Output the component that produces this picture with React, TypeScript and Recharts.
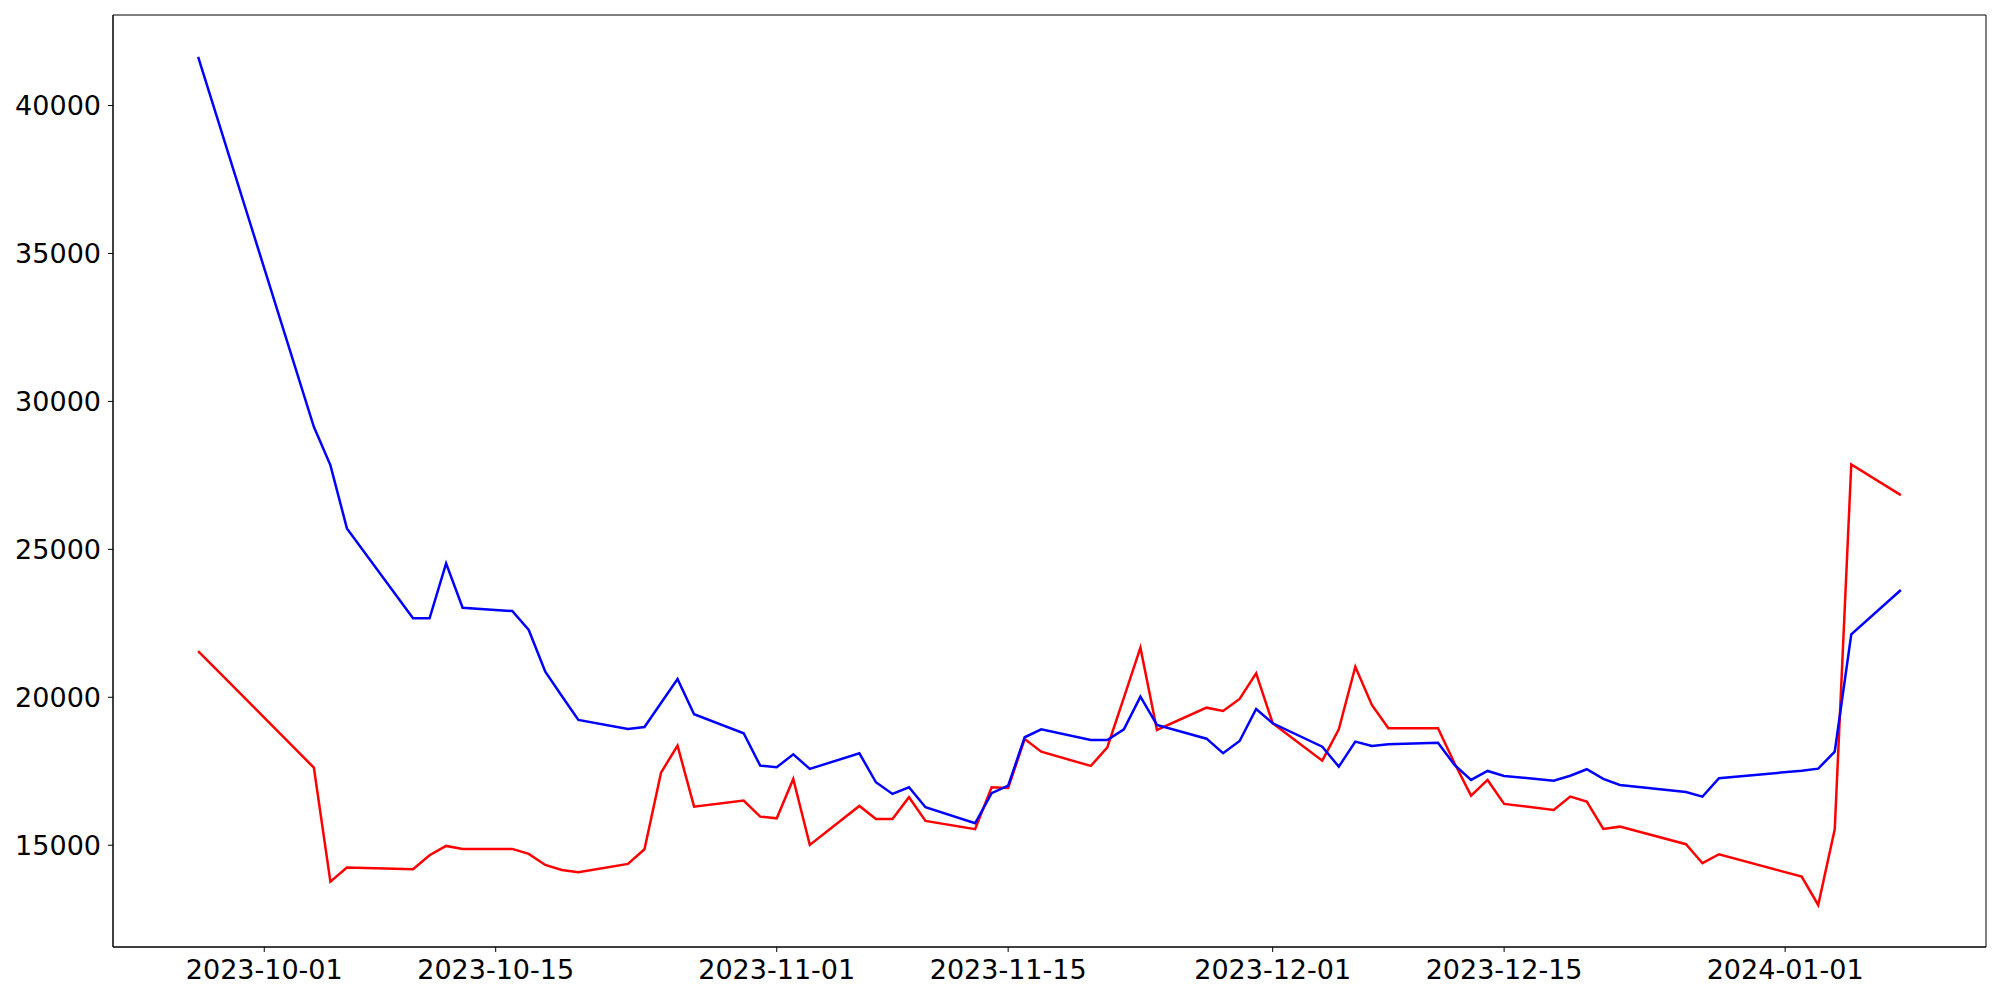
import { Line, LineChart, ReferenceArea, XAxis, YAxis } from 'recharts';

// trading days (KRX calendar, holidays skipped)
const dates = [
    '2023-09-27', '2023-10-04', '2023-10-05', '2023-10-06', '2023-10-10', '2023-10-11', '2023-10-12',
    '2023-10-13', '2023-10-16', '2023-10-17', '2023-10-18', '2023-10-19', '2023-10-20', '2023-10-23',
    '2023-10-24', '2023-10-25', '2023-10-26', '2023-10-27', '2023-10-30', '2023-10-31', '2023-11-01',
    '2023-11-02', '2023-11-03', '2023-11-06', '2023-11-07', '2023-11-08', '2023-11-09', '2023-11-10',
    '2023-11-13', '2023-11-14', '2023-11-15', '2023-11-16', '2023-11-17', '2023-11-20', '2023-11-21',
    '2023-11-22', '2023-11-23', '2023-11-24', '2023-11-27', '2023-11-28', '2023-11-29', '2023-11-30',
    '2023-12-01', '2023-12-04', '2023-12-05', '2023-12-06', '2023-12-07', '2023-12-08', '2023-12-11',
    '2023-12-12', '2023-12-13', '2023-12-14', '2023-12-15', '2023-12-18', '2023-12-19', '2023-12-20',
    '2023-12-21', '2023-12-22', '2023-12-26', '2023-12-27', '2023-12-28', '2024-01-02', '2024-01-03',
    '2024-01-04', '2024-01-05', '2024-01-08',
];

const redValues = [
    21564, 17622, 13770, 14243, 14189, 14662, 14976,
    14875, 14875, 14706, 14334, 14165, 14088, 14368,
    14865, 17453, 18365, 16304, 16507, 15966, 15909,
    17240, 15010, 16328, 15889, 15889, 16622, 15821,
    15541, 16959, 16936, 18591, 18162, 17679, 18311,
    19990, 21676, 18895, 19649, 19537, 19943, 20811,
    19122, 17858, 18919, 21034, 19740, 18953, 18953,
    17770, 16676, 17206, 16395, 16193, 16642, 16473,
    15551, 15628, 15034, 14392, 14696, 13939, 12980,
    15541, 27872, 26834,
];

const blueValues = [
    41642, 29142, 27848, 25709, 22669, 22669, 24527,
    23027, 22915, 22274, 20865, 20044, 19233, 18929,
    18997, 19808, 20618, 19426, 18784, 17689, 17635,
    18074, 17578, 18108, 17128, 16733, 16959, 16284,
    15743, 16757, 17014, 18649, 18919, 18557, 18557,
    18919, 20020, 19064, 18601, 18108, 18524, 19605,
    19122, 18331, 17655, 18500, 18355, 18410, 18466,
    17713, 17206, 17510, 17341, 17182, 17348, 17568,
    17240, 17037, 16801, 16642, 17264, 17520, 17588,
    18162, 22128, 23625,
];

const xTickLabels = ['2023-10-01', '2023-10-15', '2023-11-01', '2023-11-15', '2023-12-01', '2023-12-15', '2024-01-01'];
const yTicks = [15000, 20000, 25000, 30000, 35000, 40000];

const toTime = (d: string) => Date.parse(d + 'T00:00:00Z');

const data = dates.map((d, i) => ({ t: toTime(d), red: redValues[i], blue: blueValues[i] }));

const tStart = toTime(dates[0]);
const tEnd = toTime(dates[dates.length - 1]);
const tPad = (tEnd - tStart) * 0.05;
const xDomain: [number, number] = [tStart - tPad, tEnd + tPad];
const yDomain: [number, number] = [11560, 43060];

const FONT = 'DejaVu Sans';
const tickStyle = { fill: '#000', fontSize: 27, fontFamily: FONT };

function formatDate(t: number) {
    return new Date(t).toISOString().slice(0, 10);
}

export default function App() {
    return (
        <div style={{ position: 'absolute', left: 0, top: 0, width: 2000, height: 1000, background: '#fff' }}>
            <LineChart width={2000} height={1000} data={data} margin={{ top: 15, right: 14, left: 0, bottom: 0 }}>
                <XAxis
                    dataKey="t"
                    type="number"
                    scale="time"
                    domain={xDomain}
                    allowDataOverflow
                    ticks={xTickLabels.map(toTime)}
                    tickFormatter={formatDate}
                    interval={0}
                    height={53}
                    tick={tickStyle}
                    tickSize={5}
                    tickMargin={8}
                    stroke="#000"
                />
                <YAxis
                    type="number"
                    domain={yDomain}
                    allowDataOverflow
                    ticks={yTicks}
                    interval={0}
                    width={113}
                    tick={tickStyle}
                    tickSize={5}
                    tickMargin={7}
                    stroke="#000"
                />
                <ReferenceArea
                    x1={xDomain[0]}
                    x2={xDomain[1]}
                    y1={yDomain[0]}
                    y2={yDomain[1]}
                    fill="none"
                    stroke="#000"
                    strokeWidth={1}
                    ifOverflow="visible"
                />
                <Line type="linear" dataKey="red" stroke="#ff0000" strokeWidth={2.5} dot={false} isAnimationActive={false} />
                <Line type="linear" dataKey="blue" stroke="#0000ff" strokeWidth={2.5} dot={false} isAnimationActive={false} />
            </LineChart>
        </div>
    );
}
